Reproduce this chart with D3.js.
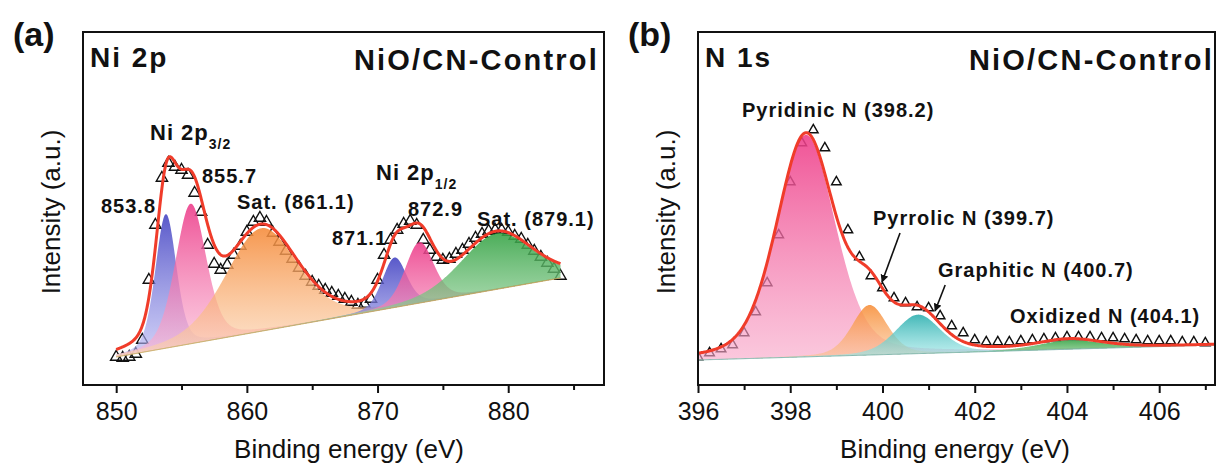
<!DOCTYPE html>
<html>
<head>
<meta charset="utf-8">
<script src="https://cdn.jsdelivr.net/npm/d3@7"></script>
<style>
  body { margin: 0; background: #fff; }
  text { font-family: 'Liberation Sans', Arial, sans-serif; fill: #111; }
</style>
</head>
<body>
<div id="chart"></div>
<script>
// ---- data ----
// Ni 2p measured counts (a.u.), one point every 0.5 eV from 850 eV
const niStart = 850
const niStep = 0.5
const niCounts = [28, 27, 28, 31, 45, 105, 160, 207, 222, 218, 215, 210, 192, 173, 140, 121,
  115, 120, 130, 139, 153, 163, 167, 163, 152, 143, 134, 126, 117, 109, 103, 99, 95, 92, 89,
  86, 83, 80, 81, 86, 105, 130, 145, 155, 161, 164, 160, 145, 135, 128, 125, 126, 131, 135,
  141, 147, 151, 154, 155, 155, 153, 149, 146, 140, 134, 128, 122, 116, 109]
const niBgEnergy = [850, 884]
const niBgLevel = [28, 107]
const niCenters = [853.8, 855.7, 861.1, 871.3, 873.2, 879.1]
const niHeights = [134, 140, 103, 50, 61, 56]
const niFwhm = [1.9, 2.8, 6.5, 2.2, 2.6, 6.5]
const niTicks = [850, 860, 870, 880]

// N 1s measured counts (a.u.), one point every 0.25 eV from 396 eV
const nStart = 396
const nStep = 0.25
const nCounts = [28, 32, 36, 40, 52, 73, 102, 150, 203, 242, 255, 237, 203, 155, 128, 109, 97,
  87, 82, 78, 77, 69, 59, 52, 45, 43, 43, 43, 44, 45, 46, 47, 48, 48, 48, 47, 47, 46, 45, 44,
  44, 44, 43, 43, 42]
const nBgEnergy = [396, 407.2]
const nBgLevel = [25, 40]
const nCenters = [398.34, 399.72, 400.77, 404.07]
const nHeights = [222, 50, 39, 9]
const nFwhm = [1.5, 0.9, 1.15, 1.6]
const nTicks = [396, 398, 400, 402, 404, 406]

// ---- layout ----
const W = 1216
const H = 468
const plotTop = 32
const plotBottom = 385
const eta = 0.3

const svg = d3.select('#chart').append('svg')
  .attr('width', W)
  .attr('height', H)

const defs = svg.append('defs')

const palette = {
  blue: ['#4242c2', '#b4b4f2'],
  pink: ['#ec3a88', '#fbb9d6'],
  orange: ['#f58a38', '#fcd6b4'],
  green: ['#33a243', '#c4e8c4'],
  pinkN: ['#ee3c88', '#f8a6c8'],
  orangeN: ['#f78e38', '#fbc596'],
  teal: ['#2aaeae', '#a8ecec'],
  greenN: ['#36a345', '#9bd79b']
}

Object.entries(palette).forEach(([k, c]) => {
  const g = defs.append('linearGradient')
    .attr('id', 'grad-' + k)
    .attr('x1', 0).attr('y1', 0).attr('x2', 0).attr('y2', 1)
  g.append('stop').attr('offset', '0%').attr('stop-color', c[0]).attr('stop-opacity', 0.88)
  g.append('stop').attr('offset', '100%').attr('stop-color', c[1]).attr('stop-opacity', 0.62)
})

defs.append('marker')
  .attr('id', 'arrow')
  .attr('viewBox', '0 0 10 10')
  .attr('refX', 9).attr('refY', 5)
  .attr('markerWidth', 5).attr('markerHeight', 5)
  .attr('orient', 'auto')
  .append('path')
  .attr('d', 'M0,0 L10,5 L0,10 z')
  .attr('fill', '#111')

function pv(x, c, h, w) {
  const d = x - c
  const g = Math.exp(-4 * Math.LN2 * d * d / (w * w))
  const l = 1 / (1 + 4 * d * d / (w * w))
  return h * (eta * l + (1 - eta) * g)
}

function drawPanel(p) {
  const x = d3.scaleLinear().domain(p.domain).range([p.left, p.right])
  const y = d3.scaleLinear().domain([0, plotBottom - plotTop]).range([plotBottom, plotTop])
  const bg = d3.scaleLinear().domain(p.bgEnergy).range(p.bgLevel)

  const g = svg.append('g')
  const clipId = 'clip-' + p.name
  defs.append('clipPath').attr('id', clipId)
    .append('rect')
    .attr('x', p.left).attr('y', plotTop)
    .attr('width', p.right - p.left).attr('height', plotBottom - plotTop)
  const plot = g.append('g').attr('clip-path', 'url(#' + clipId + ')')

  const grid = d3.range(p.fitRange[0], p.fitRange[1] + 0.001, 0.02)
  const points = p.counts.map((v, i) => ({ e: p.start + i * p.step, v: v }))

  // measured points (drawn first, the fills sit over them)
  plot.selectAll('.pt')
    .data(points)
    .join('path')
    .attr('class', 'pt')
    .attr('transform', d => 'translate(' + x(d.e) + ',' + y(d.v) + ')')
    .attr('d', d3.symbol().type(d3.symbolTriangle).size(p.symbolSize))
    .attr('fill', 'none')
    .attr('stroke', '#111')
    .attr('stroke-width', 1.4)

  // component peaks
  p.centers.forEach((c, i) => {
    const area = d3.area()
      .x(e => x(e))
      .y0(e => y(bg(e)))
      .y1(e => y(bg(e) + pv(e, c, p.heights[i], p.fwhm[i])))
    plot.append('path')
      .datum(grid)
      .attr('d', area)
      .attr('fill', 'url(#grad-' + p.colors[i] + ')')
  })

  // background line
  plot.append('path')
    .datum(grid)
    .attr('d', d3.line().x(e => x(e)).y(e => y(bg(e))))
    .attr('fill', 'none')
    .attr('stroke', p.bgColor)
    .attr('stroke-width', 1)

  // envelope
  plot.append('path')
    .datum(grid)
    .attr('d', d3.line()
      .x(e => x(e))
      .y(e => y(bg(e) + d3.sum(p.centers, (c, i) => pv(e, c, p.heights[i], p.fwhm[i])))))
    .attr('fill', 'none')
    .attr('stroke', '#f03c2a')
    .attr('stroke-width', 3)
    .attr('stroke-linejoin', 'round')

  // frame
  g.append('rect')
    .attr('x', p.left).attr('y', plotTop)
    .attr('width', p.right - p.left).attr('height', plotBottom - plotTop)
    .attr('fill', 'none')
    .attr('stroke', '#111')
    .attr('stroke-width', 2)

  const axis = g.append('g')
    .attr('transform', 'translate(0,' + plotBottom + ')')
    .call(d3.axisBottom(x).tickValues(p.ticks).tickSize(8).tickPadding(9).tickSizeOuter(0))
  axis.select('.domain').remove()
  axis.selectAll('line').attr('stroke', '#111').attr('stroke-width', 2)
  axis.selectAll('text')
    .style('font-size', '25px')
    .attr('fill', '#111')

  const minor = g.append('g')
    .attr('transform', 'translate(0,' + plotBottom + ')')
    .call(d3.axisBottom(x).tickValues(p.minorTicks).tickSize(5).tickFormat(''))
  minor.select('.domain').remove()
  minor.selectAll('line').attr('stroke', '#111').attr('stroke-width', 2)

  g.append('text')
    .attr('x', p.titleX)
    .attr('y', 458)
    .attr('text-anchor', 'middle')
    .style('font-size', '26px')
    .text('Binding energy (eV)')

  g.append('text')
    .attr('transform', 'translate(' + (p.left - 23) + ',' + 212 + ') rotate(-90)')
    .attr('text-anchor', 'middle')
    .style('font-size', '26px')
    .text('Intensity (a.u.)')

  g.append('text')
    .attr('x', p.left - 70)
    .attr('y', 46)
    .style('font-size', '34px')
    .style('font-weight', 700)
    .text(p.panel)

  g.append('text')
    .attr('x', p.left + 7)
    .attr('y', 67)
    .style('font-size', '28px')
    .style('font-weight', 700)
    .style('letter-spacing', '2px')
    .text(p.title)

  g.append('text')
    .attr('x', p.sampleX)
    .attr('y', 70)
    .attr('text-anchor', 'end')
    .style('font-size', '29px')
    .style('font-weight', 700)
    .style('letter-spacing', '2.2px')
    .text('NiO/CN-Control')

  return { g, x, y }
}

// ---- panel (a) ----
const a = drawPanel({
  name: 'a',
  panel: '(a)',
  title: 'Ni 2p',
  left: 83,
  right: 604,
  sampleX: 599,
  titleX: 349,
  domain: [847.46, 887.33],
  start: niStart,
  step: niStep,
  counts: niCounts,
  bgEnergy: niBgEnergy,
  bgLevel: niBgLevel,
  bgColor: '#c9a94e',
  centers: niCenters,
  heights: niHeights,
  fwhm: niFwhm,
  colors: ['blue', 'pink', 'orange', 'blue', 'pink', 'green'],
  fitRange: [850, 884],
  ticks: niTicks,
  minorTicks: [855, 865, 875, 885],
  symbolSize: 55
})

const peakLabel = (g, px, py, txt) => g.append('text')
  .attr('x', px).attr('y', py)
  .style('font-size', '20px')
  .style('font-weight', 700)
  .style('letter-spacing', '1px')
  .text(txt)

peakLabel(a.g, 101, 213, '853.8')
peakLabel(a.g, 202, 183, '855.7')
peakLabel(a.g, 237, 209, 'Sat. (861.1)')
peakLabel(a.g, 332, 245, '871.1')
peakLabel(a.g, 408, 216, '872.9')
peakLabel(a.g, 477, 226, 'Sat. (879.1)')

const sub = (g, px, py, main, s) => {
  const t = g.append('text')
    .attr('x', px).attr('y', py)
    .style('font-size', '22px')
    .style('font-weight', 700)
    .style('letter-spacing', '1px')
  t.append('tspan').text(main)
  t.append('tspan').attr('dy', 9).style('font-size', '14px').text(s)
}
sub(a.g, 150, 140, 'Ni 2p', '3/2')
sub(a.g, 376, 180, 'Ni 2p', '1/2')

// ---- panel (b) ----
const b = drawPanel({
  name: 'b',
  panel: '(b)',
  title: 'N 1s',
  left: 698,
  right: 1215,
  sampleX: 1214,
  titleX: 955,
  domain: [396, 407.21],
  start: nStart,
  step: nStep,
  counts: nCounts,
  bgEnergy: nBgEnergy,
  bgLevel: nBgLevel,
  bgColor: '#7fb8b0',
  centers: nCenters,
  heights: nHeights,
  fwhm: nFwhm,
  colors: ['pinkN', 'orangeN', 'teal', 'greenN'],
  fitRange: [396, 407.2],
  ticks: nTicks,
  minorTicks: [397, 399, 401, 403, 405, 407],
  symbolSize: 40
})

peakLabel(b.g, 742, 117, 'Pyridinic N (398.2)')
peakLabel(b.g, 873, 225, 'Pyrrolic N (399.7)')
peakLabel(b.g, 938, 277, 'Graphitic N (400.7)')
peakLabel(b.g, 1010, 323, 'Oxidized N (404.1)')

// arrows pointing at the shoulders
const arrow = (e0, v0, e1, v1) => b.g.append('line')
  .attr('x1', b.x(e0)).attr('y1', b.y(v0))
  .attr('x2', b.x(e1)).attr('y2', b.y(v1))
  .attr('stroke', '#111')
  .attr('stroke-width', 1.6)
  .attr('marker-end', 'url(#arrow)')
arrow(400.38, 152, 399.99, 103)
arrow(401.36, 100, 401.14, 74)
</script>
</body>
</html>
